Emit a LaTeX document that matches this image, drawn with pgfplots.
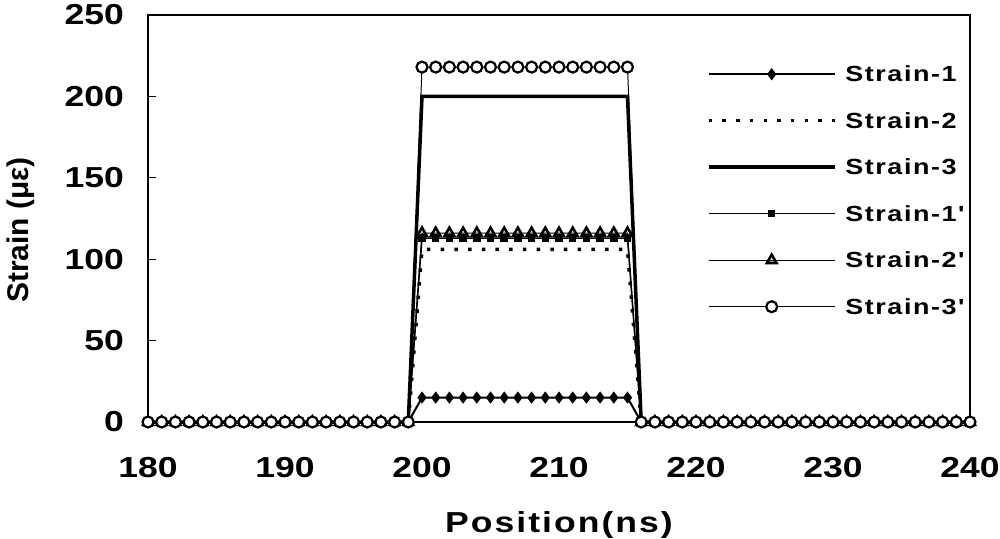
\documentclass[border=0pt]{standalone}
\usepackage{fontspec}
\setmainfont{Liberation Sans}[FakeStretch=1.23]
\newfontfamily\legfont{Liberation Sans}[FakeStretch=1.23,LetterSpace=7]
\newfontfamily\ylfont{Liberation Sans}
\usepackage{pgfplots}
\pgfplotsset{compat=1.18}
\usepackage{pgfplotstable}

% position (ns) and the six strain traces (micro strain)
\pgfplotstableread{
x   s1  s2  s3  s1p s2p s3p
180 0   0   0   0   0   0
181 0   0   0   0   0   0
182 0   0   0   0   0   0
183 0   0   0   0   0   0
184 0   0   0   0   0   0
185 0   0   0   0   0   0
186 0   0   0   0   0   0
187 0   0   0   0   0   0
188 0   0   0   0   0   0
189 0   0   0   0   0   0
190 0   0   0   0   0   0
191 0   0   0   0   0   0
192 0   0   0   0   0   0
193 0   0   0   0   0   0
194 0   0   0   0   0   0
195 0   0   0   0   0   0
196 0   0   0   0   0   0
197 0   0   0   0   0   0
198 0   0   0   0   0   0
199 0   0   0   0   0   0
200 15  106 200 113 116 218
201 15  106 200 113 116 218
202 15  106 200 113 116 218
203 15  106 200 113 116 218
204 15  106 200 113 116 218
205 15  106 200 113 116 218
206 15  106 200 113 116 218
207 15  106 200 113 116 218
208 15  106 200 113 116 218
209 15  106 200 113 116 218
210 15  106 200 113 116 218
211 15  106 200 113 116 218
212 15  106 200 113 116 218
213 15  106 200 113 116 218
214 15  106 200 113 116 218
215 15  106 200 113 116 218
216 0   0   0   0   0   0
217 0   0   0   0   0   0
218 0   0   0   0   0   0
219 0   0   0   0   0   0
220 0   0   0   0   0   0
221 0   0   0   0   0   0
222 0   0   0   0   0   0
223 0   0   0   0   0   0
224 0   0   0   0   0   0
225 0   0   0   0   0   0
226 0   0   0   0   0   0
227 0   0   0   0   0   0
228 0   0   0   0   0   0
229 0   0   0   0   0   0
230 0   0   0   0   0   0
231 0   0   0   0   0   0
232 0   0   0   0   0   0
233 0   0   0   0   0   0
234 0   0   0   0   0   0
235 0   0   0   0   0   0
236 0   0   0   0   0   0
237 0   0   0   0   0   0
238 0   0   0   0   0   0
239 0   0   0   0   0   0
240 0   0   0   0   0   0
}\strain

\begin{document}
\begin{tikzpicture}
\useasboundingbox (-148bp,-117bp) rectangle (852bp,422bp);
\begin{axis}[
  scale only axis, width=822bp, height=407bp,
  xmin=180, xmax=240, ymin=0, ymax=250,
  xtick={180,190,...,240}, ytick={0,50,...,250},
  axis line style={line width=1.6bp},
  tick align=inside, ytick pos=left, xtick pos=bottom,
  x tick style={draw=none},
  y tick style={line width=1.2bp, black},
  major tick length=8bp,
  /pgf/number format/assume math mode=true,
  tick label style={font=\bfseries\fontsize{29}{30}\selectfont},
  xticklabel style={inner sep=0pt, yshift=-35bp},
  yticklabel style={inner sep=0pt, xshift=-24bp},
  xlabel={\legfont Position(ns)},
  xlabel style={at={(axis description cs:0.5,0)}, anchor=center, yshift=-103bp,
    font=\bfseries\fontsize{29}{30}\selectfont},
  ylabel={\ylfont Strain (με)},
  ylabel style={at={(axis description cs:-0.1545,0.472)}, anchor=center,
    font=\bfseries\fontsize{30}{31}\selectfont},
  clip=false,
  legend cell align=left,
  legend image code/.code={\draw[mark repeat=2,mark phase=2]
    plot coordinates {(0bp,0bp) (63bp,0bp) (126bp,0bp)};},
  legend style={draw=none, fill=none, inner sep=0pt, outer sep=0pt,
    at={(0.680,0.8735)}, anchor=north west,
    row sep=31bp, column sep=9bp,
    font=\bfseries\legfont\fontsize{22}{23}\selectfont,
    nodes={inner sep=0pt, text height=15.5bp, text depth=0bp}},
]
\addplot[black, line width=2bp, mark=diamond*, mark size=4.5bp] table[x=x,y=s1]{\strain};
\addplot[black, line width=3.5bp, dash pattern=on 3.5bp off 10.2bp] table[x=x,y=s2]{\strain};
\addplot[black, line width=3.5bp] table[x=x,y=s3]{\strain};
\addplot[black, line width=1.5bp, mark=square*, mark size=3bp] table[x=x,y=s1p]{\strain};
\addplot[black, line width=1bp, mark=triangle, mark size=5.5bp, mark options={line width=2.6bp}] table[x=x,y=s2p]{\strain};
\addplot[black, line width=1bp, mark=*, mark size=5.5bp, mark options={line width=2.2bp, fill=white}] table[x=x,y=s3p]{\strain};
\legend{Strain-1,Strain-2,Strain-3,Strain-1',Strain-2',Strain-3'}
\end{axis}
\end{tikzpicture}
\end{document}
